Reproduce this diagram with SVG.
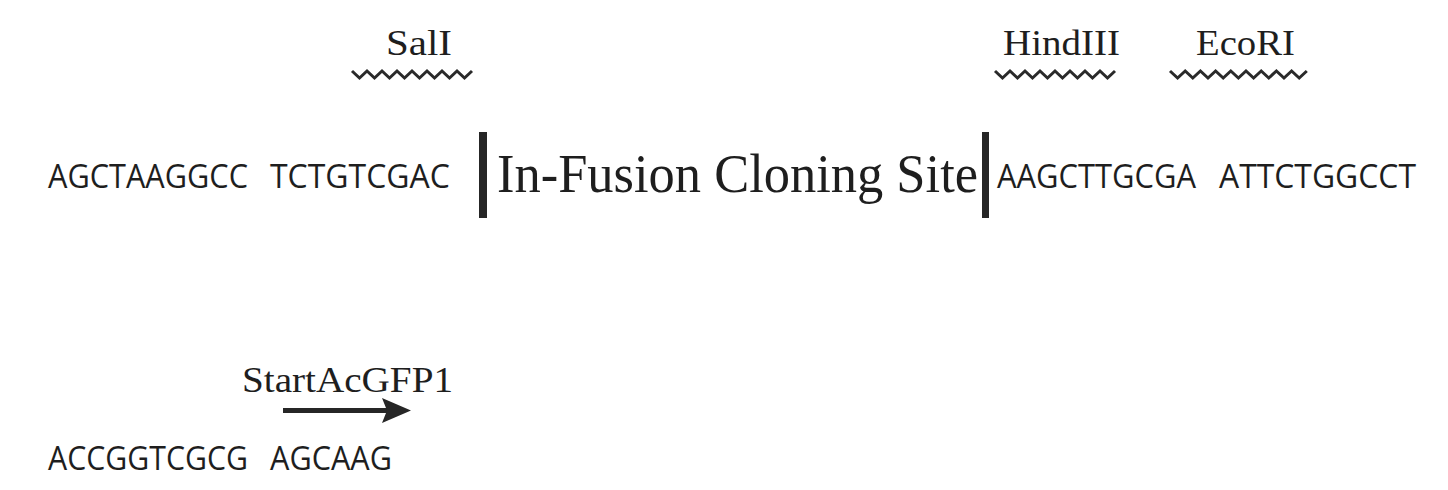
<svg xmlns="http://www.w3.org/2000/svg" width="1448" height="490" viewBox="0 0 1448 490">
<style>
.seq{font-family:"Open Sans","Noto Sans","Liberation Sans",sans-serif;font-size:33px;fill:#1e1e1e;}
.lab{font-family:"Liberation Serif","DejaVu Serif",serif;font-size:36px;fill:#1e1e1e;}
.big{font-family:"Liberation Serif","DejaVu Serif",serif;font-size:54px;fill:#1e1e1e;}
.zig{fill:none;stroke:#2a2a2a;stroke-width:3;stroke-linejoin:miter;}
.bar{fill:#262626;}
</style>
<rect width="1448" height="490" fill="#ffffff"/>
<g id="sali">
<text class="lab" x="386" y="55" textLength="66" lengthAdjust="spacingAndGlyphs">SalI</text>
<path class="zig" d="M352 71 l7.5 7 7.5 -7 l7.5 7 7.5 -7 l7.5 7 7.5 -7 l7.5 7 7.5 -7 l7.5 7 7.5 -7 l7.5 7 7.5 -7 l7.5 7 7.5 -7 l7.5 7 7.5 -7"/>
</g>
<g id="hindiii">
<text class="lab" x="1003" y="55" textLength="117" lengthAdjust="spacingAndGlyphs">HindIII</text>
<path class="zig" d="M995 71 l7.5 7 7.5 -7 l7.5 7 7.5 -7 l7.5 7 7.5 -7 l7.5 7 7.5 -7 l7.5 7 7.5 -7 l7.5 7 7.5 -7 l7.5 7 7.5 -7 l7.5 7 7.5 -7"/>
</g>
<g id="ecori">
<text class="lab" x="1196" y="55" textLength="99" lengthAdjust="spacingAndGlyphs">EcoRI</text>
<path class="zig" d="M1170 71 l7.6 7 7.6 -7 l7.6 7 7.6 -7 l7.6 7 7.6 -7 l7.6 7 7.6 -7 l7.6 7 7.6 -7 l7.6 7 7.6 -7 l7.6 7 7.6 -7 l7.6 7 7.6 -7 l7.6 7 7.6 -7"/>
</g>
<g id="seq-left">
<text class="seq" y="188"><tspan x="48" textLength="200" lengthAdjust="spacingAndGlyphs">AGCTAAGGCC</tspan><tspan x="270" textLength="180" lengthAdjust="spacingAndGlyphs">TCTGTCGAC</tspan></text>
</g>
<g id="cloning-site">
<rect class="bar" x="479" y="132" width="8" height="86"/>
<text class="big" x="497" y="192" textLength="481" lengthAdjust="spacingAndGlyphs">In-Fusion Cloning Site</text>
<rect class="bar" x="982" y="132" width="7" height="86"/>
</g>
<g id="seq-right">
<text class="seq" y="188"><tspan x="997" textLength="199" lengthAdjust="spacingAndGlyphs">AAGCTTGCGA</tspan><tspan x="1219" textLength="197" lengthAdjust="spacingAndGlyphs">ATTCTGGCCT</tspan></text>
</g>
<g id="start">
<text class="lab" x="242" y="392" textLength="211" lengthAdjust="spacingAndGlyphs">StartAcGFP1</text>
</g>
<g id="connectors">
<line x1="283" y1="410.5" x2="388" y2="410.5" stroke="#262626" stroke-width="5"/>
<polygon points="382,398 411,410.5 382,423 387,410.5" fill="#262626"/>
</g>
<g id="seq-bottom">
<text class="seq" y="470"><tspan x="48" textLength="200" lengthAdjust="spacingAndGlyphs">ACCGGTCGCG</tspan><tspan x="270" textLength="122" lengthAdjust="spacingAndGlyphs">AGCAAG</tspan></text>
</g>
</svg>
